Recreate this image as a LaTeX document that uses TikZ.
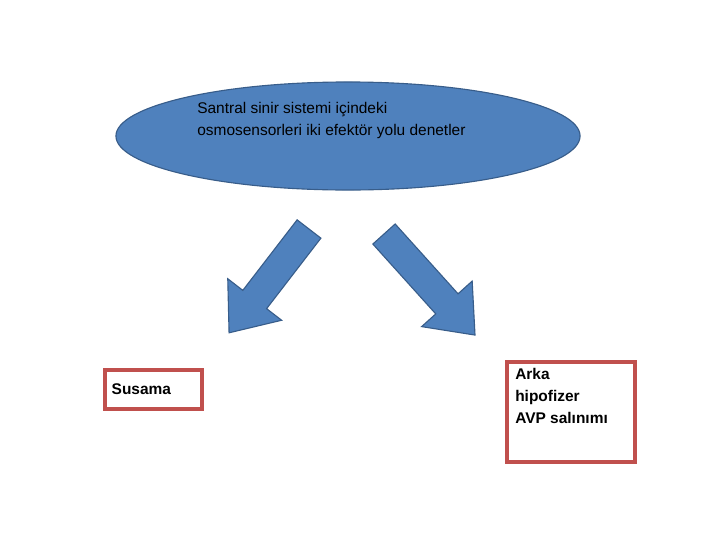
\documentclass[tikz,border=0pt]{standalone}
\usepackage{fontspec}
\setmainfont{Liberation Sans}
\usetikzlibrary{shapes.geometric, positioning}
\definecolor{blok}{HTML}{4F81BD}
\definecolor{blokcizgi}{HTML}{385D8A}
\definecolor{kutu}{HTML}{C0504D}
\tikzstyle{bulut} = [ellipse, fill=blok, draw=blokcizgi, thick]
\tikzstyle{okblok} = [fill=blok, draw=blokcizgi, thick, line join=miter]
\tikzstyle{cerceve} = [draw=kutu, line width=3pt, anchor=north west, inner sep=0pt]
\newcommand{\blokok}[3]{%
  \path[okblok, shift={#1}, rotate=#2]
    (0,-15) -- (#3-42,-15) -- (#3-42,-34) -- (#3,0) -- (#3-42,34) -- (#3-42,15) -- (0,15) -- cycle;}
\begin{document}
\begin{tikzpicture}[
    x=0.025cm,
    y=0.025cm,
    font=\fontsize{11}{15.5}\selectfont
    ]
    \useasboundingbox (0,0) rectangle (720,-540);
    \node[bulut, minimum width=11.6cm, minimum height=2.7cm](merkez) at (348,-136){};
    \node[anchor=north west, align=left, inner sep=0pt](metin) at (197,-102){Santral sinir sistemi içindeki\\osmosensorleri iki efektör yolu denetler};
    % bloklu oklar
    \blokok{(309,-229)}{-127.6}{131}
    \blokok{(384,-234)}{-48}{136}
    \node[cerceve, minimum width=2.425cm, minimum height=0.975cm](susama) at (103,-368){};
    \node[right=6pt of susama.west, inner sep=0pt, font=\fontsize{11}{15.5}\selectfont\bfseries](susamametin){Susama};
    \node[cerceve, minimum width=3.2cm, minimum height=2.5cm](arka) at (505,-360){};
    \node[anchor=north west, align=left, inner sep=0pt, font=\fontsize{11}{15.5}\selectfont\bfseries](arkametin) at (515,-368){Arka\\hipofizer\\AVP salınımı};
\end{tikzpicture}
\end{document}
